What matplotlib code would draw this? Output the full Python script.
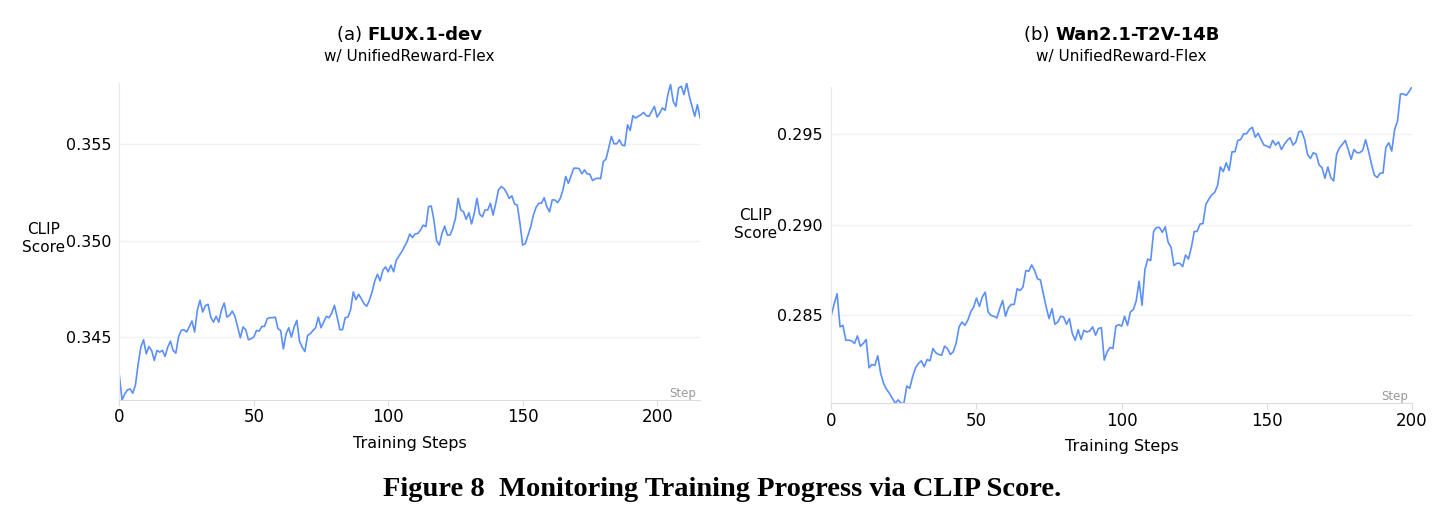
import matplotlib
matplotlib.use("Agg")
import matplotlib.pyplot as plt
from matplotlib.offsetbox import TextArea, HPacker, AnnotationBbox
import numpy as np

# CLIP score per training step
flux_steps = np.arange(0, 217)
flux_clip = [
    0.34303, 0.34177, 0.34208, 0.34229, 0.34234, 0.34212, 0.34256, 0.34364, 0.34450, 0.34488,
    0.34415, 0.34453, 0.34433, 0.34381, 0.34433, 0.34424, 0.34433, 0.34402, 0.34450, 0.34481,
    0.34433, 0.34419, 0.34502, 0.34536, 0.34540, 0.34528, 0.34554, 0.34585, 0.34528, 0.34640,
    0.34692, 0.34631, 0.34664, 0.34671, 0.34605, 0.34579, 0.34609, 0.34579, 0.34643, 0.34678,
    0.34605, 0.34614, 0.34636, 0.34609, 0.34554, 0.34498, 0.34554, 0.34540, 0.34488, 0.34493,
    0.34502, 0.34536, 0.34533, 0.34557, 0.34557, 0.34597, 0.34602, 0.34602, 0.34605, 0.34545,
    0.34536, 0.34441, 0.34519, 0.34550, 0.34502, 0.34554, 0.34588, 0.34481, 0.34450, 0.34427,
    0.34510, 0.34519, 0.34536, 0.34550, 0.34605, 0.34550, 0.34579, 0.34609, 0.34602, 0.34626,
    0.34666, 0.34605, 0.34540, 0.34540, 0.34602, 0.34605, 0.34643, 0.34735, 0.34695, 0.34723,
    0.34700, 0.34674, 0.34661, 0.34692, 0.34735, 0.34792, 0.34826, 0.34792, 0.34847, 0.34864,
    0.34839, 0.34873, 0.34839, 0.34899, 0.34920, 0.34942, 0.34968, 0.34994, 0.35034, 0.35016,
    0.35034, 0.35037, 0.35054, 0.35080, 0.35072, 0.35175, 0.35179, 0.35106, 0.34999, 0.34977,
    0.35037, 0.35075, 0.35029, 0.35029, 0.35063, 0.35115, 0.35218, 0.35158, 0.35149, 0.35110,
    0.35144, 0.35086, 0.35141, 0.35218, 0.35137, 0.35123, 0.35158, 0.35158, 0.35193, 0.35132,
    0.35193, 0.35262, 0.35279, 0.35270, 0.35248, 0.35218, 0.35231, 0.35189, 0.35184, 0.35089,
    0.34977, 0.34985, 0.35029, 0.35072, 0.35132, 0.35172, 0.35193, 0.35193, 0.35222, 0.35175,
    0.35149, 0.35210, 0.35210, 0.35196, 0.35218, 0.35262, 0.35331, 0.35296, 0.35334, 0.35374,
    0.35374, 0.35372, 0.35345, 0.35365, 0.35345, 0.35343, 0.35310, 0.35320, 0.35322, 0.35320,
    0.35408, 0.35421, 0.35478, 0.35538, 0.35500, 0.35500, 0.35521, 0.35493, 0.35490, 0.35598,
    0.35569, 0.35645, 0.35633, 0.35642, 0.35650, 0.35662, 0.35645, 0.35642, 0.35668, 0.35693,
    0.35638, 0.35659, 0.35685, 0.35673, 0.35754, 0.35806, 0.35719, 0.35693, 0.35788, 0.35797,
    0.35754, 0.35814, 0.35745, 0.35693, 0.35642, 0.35702, 0.35633,
]

wan_steps = np.arange(0, 201)
wan_clip = [
    0.28496, 0.28561, 0.28616, 0.28432, 0.28441, 0.28358, 0.28358, 0.28355, 0.28340, 0.28382,
    0.28325, 0.28340, 0.28362, 0.28205, 0.28224, 0.28218, 0.28272, 0.28174, 0.28119, 0.28086,
    0.28064, 0.28036, 0.28008, 0.28027, 0.28008, 0.28008, 0.28104, 0.28091, 0.28156, 0.28205,
    0.28229, 0.28244, 0.28211, 0.28251, 0.28244, 0.28312, 0.28288, 0.28279, 0.28275, 0.28325,
    0.28312, 0.28279, 0.28294, 0.28343, 0.28432, 0.28459, 0.28441, 0.28469, 0.28515, 0.28542,
    0.28592, 0.28546, 0.28598, 0.28625, 0.28515, 0.28496, 0.28491, 0.28482, 0.28533, 0.28579,
    0.28491, 0.28539, 0.28557, 0.28557, 0.28644, 0.28634, 0.28653, 0.28745, 0.28741, 0.28776,
    0.28745, 0.28699, 0.28693, 0.28616, 0.28542, 0.28478, 0.28533, 0.28447, 0.28459, 0.28491,
    0.28487, 0.28447, 0.28478, 0.28395, 0.28358, 0.28417, 0.28362, 0.28413, 0.28404, 0.28410,
    0.28432, 0.28386, 0.28423, 0.28428, 0.28248, 0.28294, 0.28318, 0.28312, 0.28436, 0.28445,
    0.28436, 0.28491, 0.28441, 0.28515, 0.28528, 0.28576, 0.28686, 0.28552, 0.28750, 0.28809,
    0.28800, 0.28962, 0.28984, 0.28984, 0.28957, 0.28988, 0.28901, 0.28874, 0.28773, 0.28785,
    0.28785, 0.28767, 0.28831, 0.28809, 0.28874, 0.28962, 0.28962, 0.29003, 0.29006, 0.29113,
    0.29141, 0.29165, 0.29178, 0.29215, 0.29320, 0.29294, 0.29343, 0.29301, 0.29404, 0.29404,
    0.29467, 0.29472, 0.29504, 0.29504, 0.29528, 0.29540, 0.29485, 0.29507, 0.29472, 0.29441,
    0.29436, 0.29426, 0.29467, 0.29441, 0.29459, 0.29417, 0.29445, 0.29467, 0.29482, 0.29441,
    0.29459, 0.29515, 0.29518, 0.29472, 0.29390, 0.29367, 0.29399, 0.29390, 0.29331, 0.29316,
    0.29257, 0.29320, 0.29261, 0.29242, 0.29390, 0.29426, 0.29445, 0.29467, 0.29417, 0.29362,
    0.29417, 0.29399, 0.29399, 0.29412, 0.29471, 0.29408, 0.29338, 0.29275, 0.29261, 0.29285,
    0.29286, 0.29430, 0.29454, 0.29408, 0.29528, 0.29574, 0.29725, 0.29725, 0.29717, 0.29739,
    0.29765,
]

flux_yticks = [0.345, 0.350, 0.355]
wan_yticks = [0.285, 0.290, 0.295]
x_ticks = [0, 50, 100, 150, 200]

LINE_COLOR = "#5B8FF9"
GRID_COLOR = "#f2f2f2"
AXIS_COLOR = "#dcdcdc"

plt.rcParams["font.family"] = ["DejaVu Sans"]

fig = plt.figure(figsize=(14.45, 5.2), dpi=100)
ax_left = fig.add_axes([0.0826, 0.2308, 0.4019, 0.6096])
ax_right = fig.add_axes([0.5753, 0.2244, 0.4019, 0.6088])


def style_panel(ax, steps, values, yticks, xmax, tag, model, label_y):
    ax.plot(steps, values, color=LINE_COLOR, lw=1.2)
    ax.set_xlim(0, xmax)
    ax.set_ylim(min(values), max(values))
    ax.set_xticks(x_ticks)
    ax.set_yticks(yticks)
    ax.set_yticklabels([f"{t:.3f}" for t in yticks])
    ax.grid(axis="y", color=GRID_COLOR, lw=1)
    ax.set_axisbelow(True)
    for side in ["top", "right"]:
        ax.spines[side].set_visible(False)
    ax.spines["left"].set_color("#e8e8e8")
    ax.spines["bottom"].set_color(AXIS_COLOR)
    ax.tick_params(axis="y", length=0, pad=6, labelsize=11.5)
    ax.tick_params(axis="x", length=4, color=AXIS_COLOR, pad=2, labelsize=12)
    ax.set_xlabel("Training Steps", fontsize=11.5, labelpad=7)
    ax.text(-0.13, label_y, "CLIP\nScore", transform=ax.transAxes,
            ha="center", va="center", fontsize=11, linespacing=1.25)
    ax.text(0.993, 0.02, "Step", transform=ax.transAxes, ha="right",
            va="center", fontsize=8.5, color="#999999")

    # title: "(x) " regular + model name bold, then subtitle
    pos = ax.get_position()
    cx = pos.x0 + pos.width / 2
    title = HPacker(children=[
        TextArea(tag, textprops=dict(fontsize=13)),
        TextArea(model, textprops=dict(fontsize=13, fontweight="bold")),
    ], pad=0, sep=0, align="baseline")
    ab = AnnotationBbox(title, (cx, 1 - 35 / 520), xycoords="figure fraction",
                        frameon=False, box_alignment=(0.5, 0.5))
    fig.add_artist(ab)
    fig.text(cx, 1 - 57 / 520, "w/ UnifiedReward-Flex", ha="center",
             va="center", fontsize=11)


style_panel(ax_left, flux_steps, flux_clip, flux_yticks, 216,
            "(a) ", "FLUX.1-dev", 0.511)
style_panel(ax_right, wan_steps, wan_clip, wan_yticks, 200,
            "(b) ", "Wan2.1-T2V-14B", 0.566)

fig.text(0.5, 1 - 490 / 520, "Figure 8  Monitoring Training Progress via CLIP Score.",
         ha="center", va="center", fontsize=20.5, fontweight="bold",
         family="Liberation Serif")

fig.savefig("out.png", dpi=100)
